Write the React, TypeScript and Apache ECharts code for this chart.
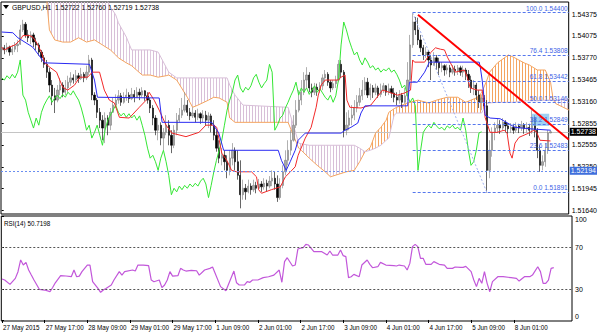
import React, { useEffect, useRef } from "react";
import * as echarts from "echarts";

const FONT = "'Liberation Sans', Arial, sans-serif";
const symbolName = "GBPUSD,H1";
const firstOpen = 1.5388;

const closes = [
  1.5391,1.5388,1.5392,1.5385,1.5389,1.5394,1.5396,1.5416,1.5424,1.5409,
  1.5405,1.5409,1.5399,1.5395,1.5385,1.5377,1.5368,1.5357,1.5339,1.5324,
  1.5318,1.5332,1.5339,1.5329,1.5335,1.5343,1.5349,1.5346,1.5352,1.5348,
  1.5354,1.5349,1.5357,1.5374,1.5325,1.5318,1.5301,1.5290,1.5279,1.5293,
  1.5283,1.5301,1.5311,1.5318,1.5324,1.5315,1.5321,1.5325,1.5320,1.5326,
  1.5322,1.5329,1.5325,1.5331,1.5324,1.5318,1.5307,1.5293,1.5276,1.5283,
  1.5265,1.5273,1.5283,1.5269,1.5255,1.5276,1.5290,1.5297,1.5304,1.5311,
  1.5301,1.5296,1.5300,1.5294,1.5299,1.5293,1.5297,1.5290,1.5296,1.5283,
  1.5269,1.5251,1.5237,1.5241,1.5232,1.5220,1.5237,1.5248,1.5232,1.5213,
  1.5186,1.5195,1.5190,1.5198,1.5193,1.5199,1.5195,1.5201,1.5197,1.5202,
  1.5198,1.5205,1.5209,1.5201,1.5182,1.5199,1.5218,1.5234,1.5248,1.5262,
  1.5283,1.5304,1.5318,1.5329,1.5346,1.5353,1.5335,1.5329,1.5336,1.5332,
  1.5338,1.5349,1.5354,1.5343,1.5335,1.5341,1.5346,1.5368,1.5357,1.5276,
  1.5283,1.5293,1.5297,1.5307,1.5315,1.5324,1.5332,1.5343,1.5325,1.5335,
  1.5329,1.5335,1.5326,1.5332,1.5338,1.5329,1.5334,1.5328,1.5322,1.5318,
  1.5325,1.5315,1.5324,1.5346,1.5395,1.5427,1.5416,1.5402,1.5391,1.5381,
  1.5385,1.5374,1.5367,1.5377,1.5371,1.5363,1.5366,1.5360,1.5363,1.5357,
  1.5361,1.5359,1.5363,1.5357,1.5360,1.5354,1.5346,1.5335,1.5339,1.5325,
  1.5315,1.5321,1.5310,1.5220,1.5248,1.5273,1.5279,1.5283,1.5279,1.5287,
  1.5282,1.5278,1.5280,1.5276,1.5282,1.5279,1.5283,1.5278,1.5280,1.5276,
  1.5293,1.5276,1.5248,1.5227,1.5232,1.5248,1.52722,1.52738,
];
const highs = [
  1.5396,1.5395,1.5398,1.5394,1.5395,1.5399,1.5402,1.5423,1.5430,1.5427,
  1.5416,1.5414,1.5412,1.5405,1.5398,1.5388,1.5381,1.5374,1.5363,1.5346,
  1.5335,1.5339,1.5349,1.5343,1.5346,1.5352,1.5357,1.5354,1.5360,1.5356,
  1.5363,1.5357,1.5366,1.5381,1.5377,1.5329,1.5321,1.5307,1.5297,1.5301,
  1.5297,1.5307,1.5321,1.5326,1.5332,1.5328,1.5329,1.5334,1.5329,1.5335,
  1.5332,1.5336,1.5334,1.5336,1.5332,1.5329,1.5321,1.5311,1.5297,1.5293,
  1.5287,1.5279,1.5297,1.5290,1.5276,1.5283,1.5300,1.5307,1.5321,1.5329,
  1.5318,1.5307,1.5308,1.5304,1.5306,1.5301,1.5304,1.5303,1.5301,1.5299,
  1.5290,1.5276,1.5262,1.5251,1.5248,1.5241,1.5248,1.5258,1.5252,1.5248,
  1.5234,1.5207,1.5201,1.5207,1.5202,1.5207,1.5204,1.5208,1.5205,1.5209,
  1.5207,1.5212,1.5220,1.5218,1.5213,1.5209,1.5227,1.5248,1.5262,1.5276,
  1.5297,1.5318,1.5332,1.5346,1.5357,1.5364,1.5357,1.5341,1.5342,1.5341,
  1.5343,1.5354,1.5360,1.5357,1.5346,1.5346,1.5352,1.5374,1.5374,1.5360,
  1.5301,1.5304,1.5311,1.5318,1.5325,1.5335,1.5346,1.5350,1.5349,1.5341,
  1.5339,1.5341,1.5338,1.5341,1.5342,1.5339,1.5341,1.5338,1.5335,1.5329,
  1.5332,1.5328,1.5335,1.5371,1.5409,1.5440,1.5434,1.5433,1.5409,1.5395,
  1.5392,1.5388,1.5381,1.5385,1.5381,1.5377,1.5371,1.5368,1.5368,1.5367,
  1.5367,1.5366,1.5367,1.5366,1.5366,1.5363,1.5360,1.5352,1.5346,1.5342,
  1.5332,1.5326,1.5325,1.5318,1.5262,1.5280,1.5287,1.5293,1.5290,1.5293,
  1.5290,1.5286,1.5286,1.5285,1.5287,1.5285,1.5289,1.5286,1.5287,1.5285,
  1.5304,1.5297,1.5279,1.5255,1.5241,1.5258,1.5276,1.5276,
];
const lows = [
  1.5385,1.5382,1.5385,1.5380,1.5381,1.5385,1.5385,1.5395,1.5413,1.5405,
  1.5399,1.5396,1.5392,1.5388,1.5380,1.5371,1.5363,1.5349,1.5329,1.5311,
  1.5300,1.5315,1.5325,1.5322,1.5325,1.5329,1.5338,1.5341,1.5343,1.5342,
  1.5346,1.5343,1.5346,1.5353,1.5318,1.5311,1.5293,1.5279,1.5262,1.5258,
  1.5269,1.5276,1.5300,1.5307,1.5313,1.5310,1.5313,1.5317,1.5314,1.5318,
  1.5315,1.5321,1.5318,1.5322,1.5317,1.5313,1.5300,1.5283,1.5269,1.5262,
  1.5255,1.5248,1.5269,1.5255,1.5244,1.5251,1.5269,1.5287,1.5293,1.5301,
  1.5296,1.5290,1.5293,1.5287,1.5290,1.5285,1.5287,1.5282,1.5279,1.5273,
  1.5262,1.5246,1.5230,1.5227,1.5220,1.5209,1.5213,1.5227,1.5220,1.5207,
  1.5167,1.5179,1.5179,1.5188,1.5186,1.5190,1.5188,1.5193,1.5190,1.5193,
  1.5191,1.5195,1.5198,1.5193,1.5176,1.5179,1.5195,1.5213,1.5227,1.5241,
  1.5260,1.5279,1.5301,1.5311,1.5325,1.5335,1.5329,1.5322,1.5325,1.5324,
  1.5328,1.5332,1.5343,1.5338,1.5329,1.5332,1.5335,1.5343,1.5349,1.5266,
  1.5269,1.5276,1.5283,1.5290,1.5301,1.5310,1.5318,1.5325,1.5321,1.5318,
  1.5321,1.5325,1.5321,1.5322,1.5328,1.5324,1.5325,1.5321,1.5315,1.5311,
  1.5313,1.5307,1.5313,1.5318,1.5343,1.5391,1.5409,1.5395,1.5385,1.5374,
  1.5377,1.5364,1.5346,1.5366,1.5360,1.5353,1.5357,1.5352,1.5354,1.5350,
  1.5354,1.5352,1.5353,1.5352,1.5350,1.5346,1.5335,1.5328,1.5325,1.5318,
  1.5307,1.5304,1.5300,1.51891,1.5209,1.5239,1.5262,1.5272,1.5271,1.5276,
  1.5273,1.5271,1.5272,1.5271,1.5273,1.5272,1.5275,1.5271,1.5273,1.5268,
  1.5271,1.5266,1.5237,1.5218,1.5220,1.5225,1.5243,1.52719,
];

const timeLabelBars = [0, 16, 32, 48, 64, 80, 96, 112, 128, 144, 160, 176, 192];
const timeLabels = [
  "27 May 2015", "27 May 17:00", "28 May 09:00", "29 May 01:00", "29 May 17:00",
  "1 Jun 09:00", "2 Jun 01:00", "2 Jun 17:00", "3 Jun 09:00", "4 Jun 01:00",
  "4 Jun 17:00", "5 Jun 09:00", "8 Jun 01:00",
];
const priceTicks = [1.54375, 1.54075, 1.5377, 1.53465, 1.5316, 1.52855, 1.52555, 1.5225, 1.51945, 1.5164];

// Ichimoku lines, read as [bar, price] vertices
const tenkan = [
  [0,1.5392],[1,1.5388],[3,1.5392],[5,1.5395],[7,1.5402],[8,1.5408],[10.6,1.5408],[11.7,1.5406],[13.2,1.5398],
  [15.1,1.5384],[16.2,1.537],[18.1,1.5364],[20.7,1.5357],[21.9,1.5346],[23,1.5336],[24.9,1.5332],[27.5,1.5339],
  [29.4,1.535],[32.4,1.535],[34.2,1.5357],[36.9,1.5357],[38.7,1.5332],[40.6,1.5318],[42.5,1.5314],[44.4,1.5294],
  [48.1,1.5293],[51.9,1.5308],[54.5,1.5318],[55.6,1.5329],[57.5,1.5318],[59.4,1.5304],[62,1.5283],[64.2,1.5272],
  [69.5,1.5267],[74.4,1.5273],[77,1.5283],[80,1.5283],[81.1,1.528],[83,1.5244],[84.9,1.5234],[86.7,1.522],
  [88.6,1.5218],[94.2,1.5218],[96.1,1.5211],[96.9,1.5193],[98,1.5188],[101.7,1.5193],[105.1,1.5197],[107,1.5211],
  [108.9,1.5218],[110.7,1.5225],[111.8,1.5241],[114.5,1.5265],[116.7,1.528],[118.6,1.5308],[119.4,1.5325],
  [120.5,1.5339],[122,1.5346],[126.9,1.5346],[128,1.535],[129.5,1.5353],[130.2,1.5318],[131.3,1.5308],
  [135.5,1.5307],[139.2,1.5311],[143.7,1.5332],[149.3,1.5325],[152,1.5328],[154.2,1.5332],[155,1.5374],
  [155.7,1.5371],[159.5,1.5371],[161.7,1.5384],[163.6,1.5391],[165.5,1.5389],[167,1.5388],[168.1,1.5378],
  [171.1,1.5357],[174.5,1.536],[175.6,1.535],[176.7,1.5335],[179.3,1.5332],[181.2,1.5332],[182,1.5308],
  [182.3,1.5294],[184.2,1.5273],[186.8,1.5273],[189.5,1.5276],[190.6,1.5272],[191.7,1.5244],[192.5,1.5237],
  [193.6,1.5258],[195.1,1.5266],[198.8,1.5272],[200.7,1.5276],[201.8,1.5273],[203,1.5262],[207,1.5261],
];
const kijun = [
  [0,1.5413],[4.2,1.5412],[6.1,1.5405],[11.7,1.5392],[16.2,1.537],[33.1,1.5368],[35,1.5346],[36.1,1.5322],
  [59.4,1.5321],[60.5,1.5287],[79.2,1.5287],[81.9,1.5272],[83.7,1.5248],[104.3,1.5248],[105.5,1.5234],
  [107.3,1.522],[108.8,1.5232],[110.7,1.5248],[111.8,1.5262],[114.5,1.5272],[128,1.5272],[129.5,1.5276],
  [131.7,1.528],[134.3,1.5286],[135.5,1.53],[137,1.531],[153.1,1.531],[153.8,1.5343],[156.8,1.5343],
  [159.5,1.5357],[161.3,1.5371],[180.1,1.5371],[180.5,1.5364],[181.2,1.5346],[182,1.5318],[182.3,1.5297],
  [184.2,1.5293],[188,1.5292],[193.6,1.528],[199.2,1.5278],[207,1.5276],
];
const chikouShift = 26;
const cloudIdx = [
  14,17,18,20,23,26,29,32,35,38,41,43,44,47,49,53,56,59,62,63,66,70,72,74,78,80,82,85,86,88,
  91,108,110,112,113,116,119,122,124,130,133,135,137,139,141,143,145,146,148,149,153,157,161,164,
  168,172,175,177,179,181,183,184,187,190,191,193,197,199,202,205,207,208,209,214,
];
const senkouA = [
  1.5465,1.5458,1.5416,1.5402,1.5399,1.5399,1.5405,1.5399,1.5402,1.5395,1.5388,1.5381,1.5377,1.537,1.5366,
  1.5353,1.5353,1.535,1.5352,1.5353,1.5346,1.5322,1.5308,1.5311,1.5318,1.5322,1.5321,1.5315,1.5293,1.5287,
  1.5287,1.5287,1.5269,1.5251,1.5248,1.5237,1.5227,1.5218,1.5211,1.5218,1.522,1.5232,1.5246,1.5252,1.5272,
  1.528,1.529,1.5301,1.5306,1.5308,1.5314,1.5318,1.5314,1.5318,1.5322,1.5322,1.5315,1.5318,1.5321,1.5328,
  1.5346,1.5357,1.537,1.5378,1.5381,1.5378,1.537,1.5367,1.536,1.536,1.5343,1.5318,1.5313,1.5304,
];
const senkouB = [
  1.5472,1.5472,1.5472,1.5472,1.5472,1.5472,1.5472,1.5472,1.5472,1.547,1.5448,1.5437,1.5426,1.5406,1.5388,
  1.5388,1.5388,1.5385,1.5364,1.5357,1.5349,1.5349,1.5349,1.5349,1.5349,1.5349,1.5349,1.5349,1.5339,1.5325,
  1.5311,1.5308,1.5283,1.5258,1.5257,1.5255,1.5255,1.5255,1.5255,1.5255,1.5255,1.5251,1.5246,1.5248,1.5251,
  1.5255,1.5262,1.5265,1.5297,1.53,1.53,1.53,1.53,1.53,1.53,1.53,1.53,1.53,1.53,1.53,
  1.5313,1.5314,1.5315,1.5315,1.5315,1.5315,1.5317,1.5317,1.5317,1.5318,1.5318,1.5318,1.5318,1.532,
];

const rsiIdx = [
  0,1,3,5,6,7,8,9,10,11,12,14,16,18,19,20,22,24,26,27,28,29,30,32,33,34,36,37,38,39,
  41,42,44,45,46,49,50,51,53,55,56,57,59,60,61,62,63,64,66,67,68,69,71,73,74,76,78,79,82,84,
  87,88,89,91,92,93,94,96,98,100,102,104,105,106,107,109,110,111,112,113,114,115,117,120,122,123,124,126,127,128,
  129,130,131,132,134,135,137,138,139,141,142,144,147,148,149,151,152,153,154,155,156,157,158,159,161,162,164,166,167,169,
  170,172,173,174,176,177,178,179,180,181,182,183,184,186,188,191,193,194,196,198,199,201,202,203,204,205,206,207,
];
const rsiVal = [
  39.7,38.7,34.5,40.3,46.8,58.1,53.2,55.8,48.4,43.5,38.7,29.7,29.0,27.4,31.5,36.0,42.9,42.6,41.9,48.4,
  41.9,42.5,46.8,53.2,53.2,37.1,30.6,26.8,29.0,30.6,33.9,38.7,46.8,43.5,46.8,48.4,47.4,53.2,53.2,52.6,
  38.7,37.0,38.7,31.3,33.9,38.7,46.8,42.5,42.9,50.0,48.4,47.4,48.1,47.7,43.5,48.4,50.0,51.3,32.3,28.4,
  47.4,36.0,33.9,33.9,37.1,36.5,38.7,38.7,41.0,41.9,43.5,48.4,36.5,56.5,60.3,52.3,53.2,68.7,69.5,70.0,
  73.2,72.6,66.1,66.1,62.9,66.8,62.9,62.9,67.7,62.3,61.3,41.0,41.9,44.2,41.9,53.2,58.1,53.9,50.6,51.6,
  55.8,53.2,52.6,52.3,53.2,52.3,48.4,54.8,71.0,73.2,71.0,59.7,59.7,53.9,53.9,56.5,53.9,53.2,50.0,50.0,
  51.3,51.0,51.0,51.9,46.8,38.7,32.3,40.3,35.5,46.8,35.5,27.4,37.1,41.9,41.9,41.0,40.3,37.7,41.9,41.9,
  43.5,51.6,46.8,35.5,35.5,38.7,50.0,50.7,
];
const rsiCurrent = 50.7198;
const rsiLevels = [30, 70];
const rsiTicks = [0, 30, 70, 100];

const fibLevels = [100, 76.4, 61.8, 50, 38.2, 23.6, 0];
const fibPrices = [1.544, 1.53808, 1.53442, 1.53146, 1.52849, 1.52483, 1.51891];
const fibAnchors = [[155, 1.544], [183, 1.51891]];
const trendLine = [[157, 1.5437], [213.84, 1.5263]];
const bidPrice = 1.52738;
const alertPrice = 1.52194;
const boxArea = [[200, 1.5299], [206.5, 1.5282]];

const X_MIN = -0.26;
const X_MAX = 213.84;
const P_MIN = 1.51591;
const P_MAX = 1.54549;
const R_MIN = -0.97;
const R_MAX = 100.68;

function hatch(color: string) {
  const c = document.createElement("canvas");
  c.width = 3;
  c.height = 3;
  const ctx = c.getContext("2d")!;
  ctx.fillStyle = color;
  ctx.fillRect(0, 0, 1, 3);
  return { image: c, repeat: "repeat" };
}

function buildOption() {
  const orangeHatch = hatch("#f4a460");
  const pinkHatch = hatch("#d8bfd8");
  const candles = closes.map((c, i) => [i, i ? closes[i - 1] : firstOpen, c, lows[i], highs[i]]);
  const segs = cloudIdx.slice(0, -1).map((x0, k) => [
    x0, senkouA[k], senkouB[k], cloudIdx[k + 1], senkouA[k + 1], senkouB[k + 1],
  ]);
  const chikou = closes.slice(chikouShift).map((c, k) => [k, c]);
  const last = closes.length - 1;
  const title = `${symbolName}  ${closes[last - 1].toFixed(5)} ${highs[last].toFixed(5)} ${lows[last].toFixed(5)} ${closes[last].toFixed(5)}`;
  const lbl = { fontFamily: FONT, color: "#000" };

  return {
    animation: false,
    backgroundColor: "#ffffff",
    textStyle: { fontFamily: FONT },
    grid: [
      { left: 1, top: 2, width: 571, height: 212, show: true, borderColor: "#000", borderWidth: 1, backgroundColor: "#fff" },
      { left: 1, top: 216, width: 571, height: 105, show: true, borderColor: "#000", borderWidth: 1, backgroundColor: "#fff" },
    ],
    xAxis: [
      { type: "value", gridIndex: 0, min: X_MIN, max: X_MAX, show: false, splitLine: { show: false } },
      {
        type: "value", gridIndex: 1, min: X_MIN, max: X_MAX,
        axisLine: { show: false }, splitLine: { show: false },
        axisTick: { show: true, customValues: timeLabelBars, length: 3, lineStyle: { color: "#000" } },
        axisLabel: {
          ...lbl, customValues: timeLabelBars, fontSize: 6.3, margin: 3, align: "left", padding: [0, 0, 0, 1],
          formatter: (v: number) => timeLabels[timeLabelBars.indexOf(Math.round(v))] || "",
        },
      },
    ],
    yAxis: [
      {
        type: "value", gridIndex: 0, position: "right", min: P_MIN, max: P_MAX,
        axisLine: { show: false }, splitLine: { show: false },
        axisTick: { show: true, customValues: priceTicks, length: 2, lineStyle: { color: "#000" } },
        axisLabel: { ...lbl, customValues: priceTicks, fontSize: 7, margin: 3, formatter: (v: number) => v.toFixed(5) },
      },
      {
        type: "value", gridIndex: 1, position: "right", min: R_MIN, max: R_MAX,
        axisLine: { show: false }, splitLine: { show: false },
        axisTick: { show: true, customValues: rsiTicks, length: 2, lineStyle: { color: "#000" } },
        axisLabel: {
          ...lbl, customValues: rsiTicks, fontSize: 7, margin: 3,
          formatter: (v: number) => (v === 100 ? "{t|100}" : v === 0 ? "{b|0}" : String(v)),
          rich: { t: { fontSize: 7, padding: [6, 0, 0, 0] }, b: { fontSize: 7, padding: [0, 0, 6, 0] } },
        },
      },
    ],
    graphic: [
      { type: "polygon", shape: { points: [[3, 5], [9, 5], [6, 9]] }, style: { fill: "#000" }, z: 100 },
      { type: "text", x: 12, y: 7, style: { text: title, fill: "#000", fontSize: 6.8, fontFamily: FONT, verticalAlign: "middle" }, z: 100 },
      { type: "text", x: 4, y: 223, style: { text: `RSI(14) ${rsiCurrent.toFixed(4)}`, fill: "#000", fontSize: 6.3, fontFamily: FONT, verticalAlign: "middle" }, z: 100 },
    ],
    series: [
      {
        type: "custom", name: "kumo", xAxisIndex: 0, yAxisIndex: 0, clip: true, silent: true, z: 1,
        data: segs,
        encode: { x: [0, 3], y: [1, 2, 4, 5] },
        renderItem: (params: any, api: any) => {
          const pts = [
            api.coord([api.value(0), api.value(1)]),
            api.coord([api.value(3), api.value(4)]),
            api.coord([api.value(3), api.value(5)]),
            api.coord([api.value(0), api.value(2)]),
          ];
          const up = api.value(1) + api.value(4) >= api.value(2) + api.value(5);
          return { type: "polygon", shape: { points: pts }, style: { fill: up ? orangeHatch : pinkHatch } };
        },
      },
      {
        type: "line", name: "SenkouA", xAxisIndex: 0, yAxisIndex: 0, z: 2, showSymbol: false, silent: true,
        data: cloudIdx.map((x, k) => [x, senkouA[k]]), lineStyle: { color: "#f4a460", width: 1 },
      },
      {
        type: "line", name: "SenkouB", xAxisIndex: 0, yAxisIndex: 0, z: 2, showSymbol: false, silent: true,
        data: cloudIdx.map((x, k) => [x, senkouB[k]]), lineStyle: { color: "#d8bfd8", width: 1 },
        markLine: {
          silent: true, symbol: ["none", "none"], z: 2, precision: 5,
          data: [
            {
              yAxis: bidPrice, lineStyle: { color: "#c4c4c4", type: "solid", width: 1 },
              label: { position: "end", formatter: bidPrice.toFixed(5), backgroundColor: "#000", color: "#fff", fontSize: 7, fontFamily: FONT, padding: [1, 1, 0, 1], distance: 1 },
            },
          ],
        },
      },
      {
        type: "candlestick", name: "GBPUSD", xAxisIndex: 0, yAxisIndex: 0, z: 3, silent: true,
        data: candles, encode: { x: 0, y: [1, 2, 3, 4] }, barWidth: 1.8,
        itemStyle: { color: "#a8a8a8", color0: "#000000", borderColor: "#7c7c7c", borderColor0: "#000000", borderWidth: 0.6 },
      },
      {
        type: "line", name: "Chikou", xAxisIndex: 0, yAxisIndex: 0, z: 4, showSymbol: false, silent: true,
        data: chikou, lineStyle: { color: "#35e635", width: 1 },
      },
      {
        type: "line", name: "Tenkan", xAxisIndex: 0, yAxisIndex: 0, z: 4, showSymbol: false, silent: true,
        data: tenkan, lineStyle: { color: "#f22a2a", width: 1 },
      },
      {
        type: "line", name: "Kijun", xAxisIndex: 0, yAxisIndex: 0, z: 4, showSymbol: false, silent: true,
        data: kijun, lineStyle: { color: "#2a2af2", width: 1 },
      },
      {
        type: "line", name: "Fibo", xAxisIndex: 0, yAxisIndex: 0, z: 5, showSymbol: false, silent: true,
        data: fibAnchors, lineStyle: { color: "#9fb2f2", width: 1, type: [2, 2] },
        markLine: {
          silent: true, symbol: ["none", "none"], z: 5, precision: 5,
          lineStyle: { color: "#5577ee", width: 1, type: [3, 2] },
          label: { position: "insideEndTop", color: "#3d5fe6", fontSize: 6.5, fontFamily: FONT, distance: 1 },
          data: [
            ...fibLevels.map((lvl, k) => [
              { coord: [fibAnchors[0][0], fibPrices[k]], label: { formatter: `${lvl.toFixed(1)} ${fibPrices[k].toFixed(5)}` } },
              { coord: [X_MAX, fibPrices[k]] },
            ]),
            {
              yAxis: alertPrice, lineStyle: { color: "#6a8ef0", type: [2, 2], width: 1 },
              label: { position: "end", formatter: alertPrice.toFixed(5), backgroundColor: "#3f6fdc", color: "#fff", fontSize: 7, fontFamily: FONT, padding: [1, 1, 0, 1], distance: 1 },
            },
          ],
        },
      },
      {
        type: "line", name: "Trend", xAxisIndex: 0, yAxisIndex: 0, z: 6, showSymbol: false, silent: true,
        data: trendLine, lineStyle: { color: "#ff0000", width: 2 },
        markArea: {
          silent: true, z: 4,
          itemStyle: { color: "rgba(120,190,240,0.7)" },
          data: [[{ coord: boxArea[0] }, { coord: boxArea[1] }]],
        },
      },
      {
        type: "line", name: "RSI", xAxisIndex: 1, yAxisIndex: 1, z: 4, showSymbol: false, silent: true,
        data: rsiIdx.map((x, k) => [x, rsiVal[k]]), lineStyle: { color: "#c257da", width: 1.2 },
        markLine: {
          silent: true, symbol: ["none", "none"], label: { show: false }, precision: 5,
          lineStyle: { color: "#555", type: [2, 2], width: 1 },
          data: rsiLevels.map((v) => ({ yAxis: v })),
        },
      },
    ],
  };
}

export default function App() {
  const ref = useRef<HTMLDivElement>(null);
  useEffect(() => {
    if (!ref.current) return;
    const chart = echarts.init(ref.current, null, { renderer: "svg" });
    chart.setOption(buildOption() as any);
    return () => chart.dispose();
  }, []);
  return <div ref={ref} style={{ position: "fixed", left: 0, top: 0, width: 600, height: 333, background: "#fff" }} />;
}
